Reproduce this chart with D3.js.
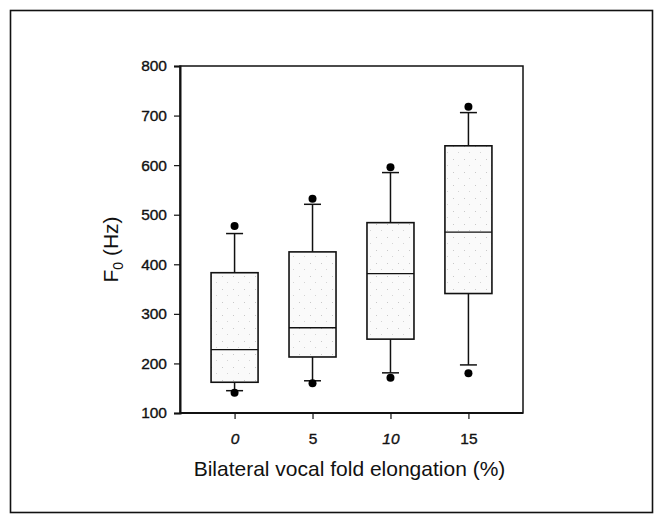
<!DOCTYPE html>
<html>
<head>
<meta charset="utf-8">
<script src="https://cdn.jsdelivr.net/npm/d3@7"></script>
<style>
html,body{margin:0;padding:0;background:#fff;}
svg{display:block;font-family:"Liberation Sans",Arial,sans-serif;}
</style>
</head>
<body>
<svg id="chart" width="664" height="524"></svg>
<script>
const categories = ["0", "5", "10", "15"];
const q1Values      = [162, 213, 249, 341];
const medianValues  = [228, 272, 381, 465];
const q3Values      = [383, 425, 484, 639];
const whiskerLow    = [145, 165, 181, 197];
const whiskerHigh   = [462, 521, 585, 706];
const outlierLow    = [141, 160, 171, 180];
const outlierHigh   = [477, 532, 596, 718];
const yTicks = [100, 200, 300, 400, 500, 600, 700, 800];

const svg = d3.select("#chart");

// outer frame
svg.append("rect").attr("x", 10.5).attr("y", 10.5).attr("width", 642).attr("height", 502)
  .attr("fill", "none").attr("stroke", "#111").attr("stroke-width", 1.6);

const pLeft = 180, pRight = 523, pTop = 66, pBottom = 413;
const x = d3.scalePoint().domain(categories).range([pLeft, pRight]).padding(0.7);
const y = d3.scaleLinear().domain([100, 800]).range([pBottom, pTop]);

const boxW = 47, capW = 17;

const data = categories.map((c, i) => ({
  c, q1: q1Values[i], med: medianValues[i], q3: q3Values[i],
  lo: whiskerLow[i], hi: whiskerHigh[i], olo: outlierLow[i], ohi: outlierHigh[i]
}));

// stipple pattern for box fill
const defs = svg.append("defs");
const pat = defs.append("pattern").attr("id", "stip").attr("patternUnits", "userSpaceOnUse")
  .attr("width", 11).attr("height", 13);
pat.append("rect").attr("width", 11).attr("height", 13).attr("fill", "#fafafa");
pat.append("rect").attr("x", 2).attr("y", 3).attr("width", 1).attr("height", 1).attr("fill", "#c8c8c8");
pat.append("rect").attr("x", 7).attr("y", 9).attr("width", 1).attr("height", 1).attr("fill", "#d4d4d4");

const g = svg.append("g");
const boxes = g.selectAll("g.box").data(data).join("g").attr("class", "box");

// whiskers
boxes.append("line").attr("x1", d => x(d.c)).attr("x2", d => x(d.c))
  .attr("y1", d => y(d.q3)).attr("y2", d => y(d.hi)).attr("stroke", "#111").attr("stroke-width", 1.5);
boxes.append("line").attr("x1", d => x(d.c)).attr("x2", d => x(d.c))
  .attr("y1", d => y(d.q1)).attr("y2", d => y(d.lo)).attr("stroke", "#111").attr("stroke-width", 1.5);
boxes.append("line").attr("x1", d => x(d.c) - capW / 2).attr("x2", d => x(d.c) + capW / 2)
  .attr("y1", d => y(d.hi)).attr("y2", d => y(d.hi)).attr("stroke", "#111").attr("stroke-width", 1.5);
boxes.append("line").attr("x1", d => x(d.c) - capW / 2).attr("x2", d => x(d.c) + capW / 2)
  .attr("y1", d => y(d.lo)).attr("y2", d => y(d.lo)).attr("stroke", "#111").attr("stroke-width", 1.5);

// boxes
boxes.append("rect").attr("x", d => x(d.c) - boxW / 2).attr("width", boxW)
  .attr("y", d => y(d.q3)).attr("height", d => y(d.q1) - y(d.q3))
  .attr("fill", "url(#stip)").attr("stroke", "#111").attr("stroke-width", 1.6);
boxes.append("line").attr("x1", d => x(d.c) - boxW / 2).attr("x2", d => x(d.c) + boxW / 2)
  .attr("y1", d => y(d.med)).attr("y2", d => y(d.med)).attr("stroke", "#111").attr("stroke-width", 1.3);

// outliers
boxes.append("circle").attr("cx", d => x(d.c)).attr("cy", d => y(d.ohi)).attr("r", 4).attr("fill", "#000");
boxes.append("circle").attr("cx", d => x(d.c)).attr("cy", d => y(d.olo)).attr("r", 4).attr("fill", "#000");

// plot frame
svg.append("rect").attr("x", pLeft).attr("y", pTop).attr("width", pRight - pLeft).attr("height", pBottom - pTop)
  .attr("fill", "none").attr("stroke", "#111").attr("stroke-width", 1.5);

// y axis
const yAxis = svg.append("g").attr("transform", `translate(${pLeft},0)`)
  .call(d3.axisLeft(y).tickValues(yTicks).tickSize(6).tickPadding(7));
yAxis.select(".domain").attr("stroke", "#111").attr("stroke-width", 2);
yAxis.selectAll(".tick line").attr("stroke", "#111").attr("stroke-width", 1.2);
yAxis.selectAll("text").attr("font-size", 15.5).attr("fill", "#111")
  .attr("stroke", "#111").attr("stroke-width", 0.35)
  .attr("font-family", "'Liberation Sans',Arial,sans-serif");

// x axis
const xAxis = svg.append("g").attr("transform", `translate(0,${pBottom})`)
  .call(d3.axisBottom(x).tickSize(6).tickPadding(14));
xAxis.select(".domain").attr("stroke", "#111").attr("stroke-width", 2)
  .attr("d", `M${pLeft},0H${pRight}`);
xAxis.selectAll(".tick line").attr("stroke", "#111").attr("stroke-width", 1.2);
xAxis.selectAll("text").attr("font-size", 15.5).attr("fill", "#111")
  .attr("stroke", "#111").attr("stroke-width", 0.35)
  .attr("font-family", "'Liberation Sans',Arial,sans-serif")
  .attr("font-style", d => (d === "0" || d === "10") ? "italic" : "normal");

// axis titles
svg.append("text").attr("x", (pLeft + pRight) / 2 - 2).attr("y", 476)
  .attr("text-anchor", "middle").attr("font-size", 21).attr("fill", "#111")
  .text("Bilateral vocal fold elongation (%)");

const yt = svg.append("text").attr("transform", `translate(118,${(pTop + pBottom) / 2 + 10}) rotate(-90)`)
  .attr("text-anchor", "middle").attr("font-size", 21).attr("fill", "#111");
yt.append("tspan").text("F");
yt.append("tspan").attr("font-size", 14).attr("dy", 5).text("0");
yt.append("tspan").attr("dy", -5).text(" (Hz)");
</script>
</body>
</html>
